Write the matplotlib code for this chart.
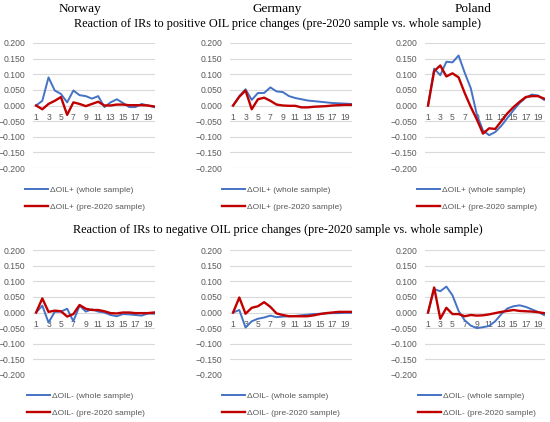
import matplotlib
matplotlib.use("Agg")
import matplotlib.pyplot as plt

plt.rcParams["font.family"] = ["Liberation Sans", "DejaVu Sans"]

# horizons 1..20
horizon = list(range(1, 21))

countries = ["Norway", "Germany", "Poland"]

# reaction to positive OIL price changes
pos_whole_norway = [0.000, 0.015, 0.090, 0.048, 0.037, 0.010, 0.048, 0.033, 0.030, 0.022,
                    0.030, -0.005, 0.010, 0.020, 0.008, -0.005, -0.005, 0.005, 0.000, -0.005]
pos_pre_norway = [0.000, -0.012, 0.005, 0.015, 0.027, -0.030, 0.010, 0.005, -0.002, 0.005,
                  0.012, 0.000, 0.000, 0.003, 0.003, 0.001, 0.001, 0.001, 0.000, -0.003]
pos_whole_germany = [0.000, 0.030, 0.052, 0.018, 0.040, 0.040, 0.058, 0.045, 0.043, 0.030,
                     0.024, 0.020, 0.016, 0.014, 0.012, 0.010, 0.008, 0.007, 0.006, 0.005]
pos_pre_germany = [0.000, 0.028, 0.048, -0.012, 0.020, 0.025, 0.015, 0.003, 0.000, -0.001,
                   -0.001, -0.006, -0.006, -0.004, -0.003, -0.002, 0.000, 0.001, 0.002, 0.002]
pos_whole_poland = [0.000, 0.118, 0.097, 0.140, 0.138, 0.160, 0.105, 0.055, -0.030, -0.080,
                    -0.095, -0.085, -0.065, -0.040, -0.015, 0.008, 0.025, 0.035, 0.032, 0.018]
pos_pre_poland = [0.000, 0.110, 0.128, 0.093, 0.103, 0.090, 0.040, -0.005, -0.045, -0.090,
                  -0.073, -0.075, -0.050, -0.025, -0.005, 0.012, 0.027, 0.030, 0.030, 0.022]

# reaction to negative OIL price changes
neg_whole_norway = [0.000, 0.022, -0.032, 0.002, 0.003, 0.012, -0.028, 0.022, 0.003, 0.010,
                    0.003, 0.000, -0.008, -0.012, -0.005, -0.006, -0.008, -0.010, -0.003, -0.004]
neg_pre_norway = [0.000, 0.045, 0.002, 0.006, 0.004, -0.013, -0.005, 0.024, 0.012, 0.008,
                  0.008, 0.004, -0.002, -0.003, 0.000, 0.000, -0.002, -0.002, -0.002, 0.000]
neg_whole_germany = [0.000, 0.008, -0.048, -0.028, -0.020, -0.016, -0.010, -0.015, -0.013, -0.012,
                     -0.011, -0.009, -0.007, -0.005, -0.004, -0.003, -0.002, -0.002, -0.001, -0.001]
neg_pre_germany = [0.000, 0.048, -0.004, 0.015, 0.020, 0.033, 0.018, -0.003, -0.008, -0.012,
                   -0.012, -0.012, -0.012, -0.009, -0.005, -0.002, 0.000, 0.002, 0.002, 0.002]
neg_whole_poland = [0.000, 0.075, 0.068, 0.083, 0.055, 0.005, -0.025, -0.042, -0.050, -0.047,
                    -0.043, -0.028, -0.005, 0.013, 0.020, 0.023, 0.018, 0.010, 0.002, -0.008]
neg_pre_poland = [0.000, 0.080, -0.020, 0.015, -0.005, -0.005, -0.012, -0.008, -0.010, -0.009,
                  -0.006, -0.002, 0.002, 0.005, 0.008, 0.005, 0.004, 0.003, 0.001, -0.002]

y_ticks = [0.200, 0.150, 0.100, 0.050, 0.000, -0.050, -0.100, -0.150, -0.200]
x_ticks = [1, 3, 5, 7, 9, 11, 13, 15, 17, 19]

BLUE = "#4472C4"
RED = "#C00000"
GRAY = "#595959"
GRID = "#D9D9D9"
TICK_SIZE = 6.2
LEG_SIZE = 6.0

W, H = 550, 422
# axes boxes in pixels (left, right) per column, (top, bottom) per row
COLS = [(33, 155), (230, 352), (425, 545)]
ROWS = [(43, 168), (250, 375)]
LEGEND_X = [[25, 222, 417], [27, 222, 418]]
LEGEND_Y = [186, 392]


def px_box(xl, xr, yt, yb):
    return [xl / W, 1 - yb / H, (xr - xl) / W, (yb - yt) / H]


def draw_panel(fig, row, col, whole, pre, sign):
    xl, xr = COLS[col]
    yt, yb = ROWS[row]
    ax = fig.add_axes(px_box(xl, xr, yt, yb))
    ax.set_xlim(0.5, 20.15)
    ax.set_ylim(-0.2, 0.2)
    ax.set_yticks(y_ticks)
    ax.set_yticklabels([f"{v:.3f}".replace("-", "\u2212") for v in y_ticks])
    ax.set_xticks(x_ticks)
    ax.set_xticklabels([str(v) for v in x_ticks])
    # horizontal gridlines drawn under everything (so x labels stay readable)
    for v in y_ticks:
        ax.axhline(v, color=GRID, linewidth=0.8, zorder=0.5)
    for s in ax.spines.values():
        s.set_visible(False)
    ax.spines["bottom"].set_position(("data", 0))
    ax.tick_params(axis="both", length=0, labelsize=TICK_SIZE, labelcolor=GRAY)
    ax.tick_params(axis="y", pad=5.5)
    ax.tick_params(axis="x", pad=5.5)

    lw, = ax.plot(horizon, whole, color=BLUE, linewidth=1.4,
                  label=f"\u0394OIL{sign} (whole sample)")
    lp, = ax.plot(horizon, pre, color=RED, linewidth=1.7,
                  label=f"\u0394OIL{sign} (pre-2020 sample)")

    lx = LEGEND_X[row][col]
    ly = LEGEND_Y[row]
    ax.legend(handles=[lw, lp], loc="upper left", frameon=False,
              bbox_to_anchor=(lx / W, 1 - ly / H), bbox_transform=fig.transFigure,
              fontsize=LEG_SIZE, labelcolor=GRAY, handlelength=2.8, handletextpad=0.2,
              labelspacing=1.1, borderpad=0, borderaxespad=0)
    return ax


fig = plt.figure(figsize=(W / 100, H / 100), dpi=100)

pos_data = [(pos_whole_norway, pos_pre_norway),
            (pos_whole_germany, pos_pre_germany),
            (pos_whole_poland, pos_pre_poland)]
neg_data = [(neg_whole_norway, neg_pre_norway),
            (neg_whole_germany, neg_pre_germany),
            (neg_whole_poland, neg_pre_poland)]

for c, (w, p) in enumerate(pos_data):
    draw_panel(fig, 0, c, w, p, "+")
for c, (w, p) in enumerate(neg_data):
    draw_panel(fig, 1, c, w, p, "-")

serif = "Liberation Serif"
title_x = [80, 277, 473]
for name, tx in zip(countries, title_x):
    fig.text(tx / W, 1 - 9 / H, name, ha="center", va="center",
             fontsize=9.5, family=serif, color="black")

fig.text(278 / W, 1 - 24 / H,
         "Reaction of IRs to positive OIL price changes (pre-2020 sample vs. whole sample)",
         ha="center", va="center", fontsize=8.8, family=serif, color="black")
fig.text(278 / W, 1 - 230 / H,
         "Reaction of IRs to negative OIL price changes (pre-2020 sample vs. whole sample)",
         ha="center", va="center", fontsize=8.8, family=serif, color="black")

fig.savefig("out.png", dpi=100)
